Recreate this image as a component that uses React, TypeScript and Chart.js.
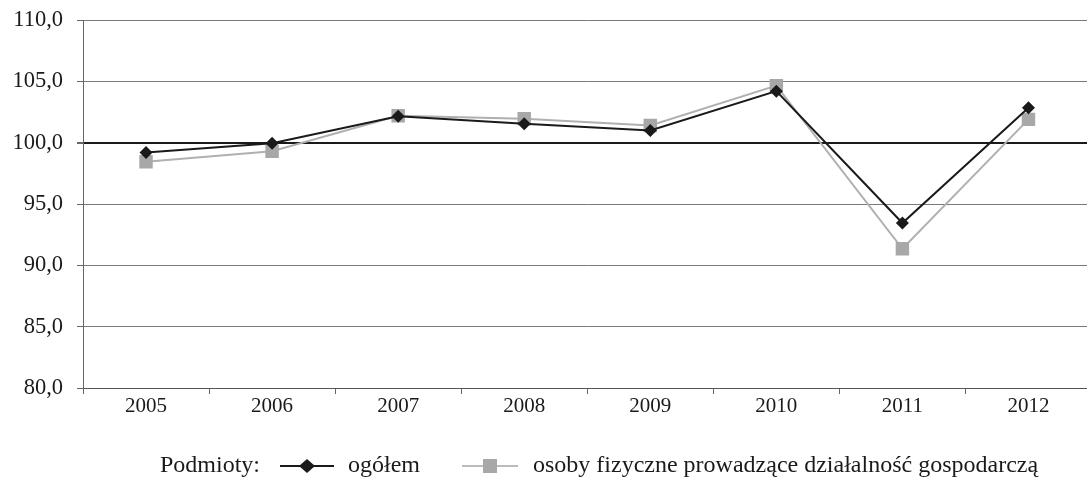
import React, { useEffect, useRef } from "react";
import { Chart, registerables } from "chart.js";

Chart.register(...registerables);

const years = ["2005", "2006", "2007", "2008", "2009", "2010", "2011", "2012"];
const ogolem = [99.2, 99.95, 102.15, 101.55, 101.0, 104.2, 93.45, 102.85];
const osobyFizyczne = [98.45, 99.3, 102.2, 101.95, 101.4, 104.65, 91.35, 101.9];
const legendTitle = "Podmioty:";
const seriesNames = ["ogółem", "osoby fizyczne prowadzące działalność gospodarczą"];

const FONT = "'Liberation Serif', serif";

const legendPlugin = {
  id: "customLegend",
  afterDraw(chart: any) {
    const ctx = chart.ctx;
    const y = 466;
    ctx.save();
    ctx.font = `24px ${FONT}`;
    ctx.fillStyle = "#1a1a1a";
    ctx.textBaseline = "middle";
    ctx.textAlign = "left";
    ctx.fillText(legendTitle, 160, y);
    ctx.strokeStyle = "#1a1a1a";
    ctx.lineWidth = 2;
    ctx.beginPath();
    ctx.moveTo(280, y);
    ctx.lineTo(334, y);
    ctx.stroke();
    ctx.fillStyle = "#1a1a1a";
    ctx.beginPath();
    ctx.moveTo(307 - 8, y);
    ctx.lineTo(307, y - 7);
    ctx.lineTo(307 + 8, y);
    ctx.lineTo(307, y + 7);
    ctx.closePath();
    ctx.fill();
    ctx.fillText(seriesNames[0], 348, y);
    ctx.strokeStyle = "#bbbbbb";
    ctx.beginPath();
    ctx.moveTo(462, y);
    ctx.lineTo(518, y);
    ctx.stroke();
    ctx.fillStyle = "#a8a8a8";
    ctx.fillRect(490 - 7, y - 7, 14, 14);
    ctx.fillStyle = "#1a1a1a";
    ctx.fillText(seriesNames[1], 533, y);
    ctx.restore();
  },
};

export default function App() {
  const ref = useRef<HTMLCanvasElement | null>(null);
  useEffect(() => {
    let chart: Chart | null = null;
    let cancelled = false;
    const make = () => {
      if (cancelled || !ref.current) return;
      chart = new Chart(ref.current, {
        type: "line",
        data: {
          labels: years,
          datasets: [
            {
              label: seriesNames[0],
              data: ogolem,
              borderColor: "#1a1a1a",
              backgroundColor: "#1a1a1a",
              borderWidth: 2,
              pointStyle: "rectRot",
              pointRadius: 6.5,
              pointBorderWidth: 0,
              tension: 0,
            },
            {
              label: seriesNames[1],
              data: osobyFizyczne,
              borderColor: "#b0b0b0",
              backgroundColor: "#a8a8a8",
              borderWidth: 2,
              pointStyle: "rect",
              pointRadius: 9.5,
              pointBorderWidth: 0,
              tension: 0,
            },
          ],
        },
        options: {
          responsive: false,
          animation: false,
          layout: { padding: { top: 20, left: 0, right: 0, bottom: 0 } },
          plugins: { legend: { display: false }, tooltip: { enabled: false } },
          scales: {
            x: {
              offset: true,
              afterFit(scale: any) {
                scale.height = 91;
              },
              grid: {
                drawOnChartArea: false,
                drawTicks: true,
                tickLength: 6,
                offset: true,
                color: "#666",
              },
              border: { color: "#555", width: 1 },
              ticks: {
                color: "#1a1a1a",
                font: { family: FONT, size: 21 },
                padding: 0,
                maxRotation: 0,
              },
            },
            y: {
              min: 80,
              max: 110,
              afterFit(scale: any) {
                scale.width = 83;
                scale.paddingTop = 0;
                scale.paddingBottom = 0;
              },
              ticks: {
                stepSize: 5,
                color: "#1a1a1a",
                font: { family: FONT, size: 22.5 },
                padding: 14,
                callback: (v: any) => Number(v).toFixed(1).replace(".", ","),
              },
              grid: {
                color: (c: any) => (c.tick && c.tick.value === 100 ? "#1a1a1a" : "#7a7a7a"),
                lineWidth: (c: any) => (c.tick && c.tick.value === 100 ? 2 : 1),
                tickColor: "#666",
                tickLength: 6,
              },
              border: { color: "#666", width: 1 },
            },
          },
        },
        plugins: [legendPlugin],
      });
    };
    const fonts: any = (document as any).fonts;
    if (fonts && fonts.load) {
      Promise.all([
        fonts.load("21px 'Liberation Serif'"),
        fonts.load("24px 'Liberation Serif'"),
      ])
        .catch(() => null)
        .then(make);
    } else {
      make();
    }
    return () => {
      cancelled = true;
      if (chart) chart.destroy();
    };
  }, []);
  return (
    <div
      style={{
        position: "absolute",
        left: 0,
        top: 0,
        width: 1087,
        height: 479,
        overflow: "hidden",
        background: "#fff",
      }}
    >
      <canvas ref={ref} width={1101} height={479} style={{ width: 1101, height: 479 }} />
    </div>
  );
}
